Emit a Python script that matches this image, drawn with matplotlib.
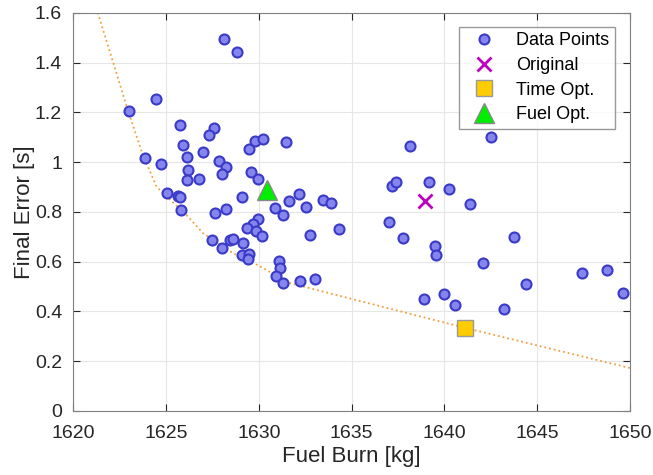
import numpy as np
import matplotlib.pyplot as plt

plt.rcParams['font.family'] = ['Liberation Sans', 'DejaVu Sans']

# Data points (fuel burn [kg], final error [s])
fuel = np.array([
    1628.15, 1628.81, 1624.45, 1623.03, 1625.78, 1627.59, 1627.31, 1625.90,
    1627.00, 1629.49, 1629.82, 1630.21, 1631.49, 1623.89, 1624.75, 1626.12,
    1627.83, 1628.22, 1626.16, 1626.14, 1626.77, 1628.02, 1629.59, 1629.94,
    1625.04, 1625.64, 1625.75, 1629.07, 1632.14, 1631.61, 1632.53, 1625.80,
    1627.66, 1628.22, 1630.88, 1631.29, 1629.94, 1633.44, 1633.89, 1629.67,
    1629.35, 1629.85, 1630.18, 1632.76, 1634.32, 1627.49, 1628.04, 1628.45,
    1628.63, 1629.15, 1629.08, 1629.46, 1629.41, 1631.09, 1631.15, 1630.95,
    1631.33, 1632.24, 1633.05, 1638.15, 1642.49, 1637.20, 1637.40, 1639.15,
    1640.25, 1641.40, 1637.00, 1637.79, 1643.75, 1639.49, 1639.53, 1642.06,
    1647.41, 1648.74, 1644.39, 1649.62, 1638.90, 1639.99, 1640.59, 1643.19,
])
error = np.array([
    1.494, 1.442, 1.254, 1.207, 1.148, 1.139, 1.107, 1.069,
    1.042, 1.053, 1.083, 1.093, 1.080, 1.016, 0.992, 1.020,
    1.004, 0.982, 0.968, 0.927, 0.934, 0.953, 0.960, 0.934,
    0.875, 0.862, 0.858, 0.859, 0.870, 0.845, 0.819, 0.808,
    0.795, 0.813, 0.816, 0.787, 0.772, 0.848, 0.835, 0.752,
    0.734, 0.725, 0.701, 0.708, 0.730, 0.685, 0.654, 0.687,
    0.690, 0.674, 0.627, 0.631, 0.611, 0.603, 0.574, 0.543,
    0.516, 0.523, 0.532, 1.065, 1.101, 0.905, 0.918, 0.919,
    0.892, 0.832, 0.758, 0.694, 0.697, 0.661, 0.628, 0.596,
    0.553, 0.568, 0.509, 0.474, 0.449, 0.470, 0.426, 0.411,
])

# Special designs
orig_pt = (1638.97, 0.843)
time_opt = (1641.09, 0.334)
fuel_opt = (1630.43, 0.888)

# Pareto front
front_fuel = np.array([1621.0, 1622.9, 1623.7, 1624.5, 1626.2, 1627.0, 1628.6,
                       1630.1, 1631.6, 1641.09, 1650.0])
front_err = np.array([1.68, 1.22, 1.04, 0.90, 0.78, 0.714, 0.634,
                      0.58, 0.515, 0.334, 0.172])

fig = plt.figure(figsize=(6.53, 4.75), dpi=100)
ax = fig.add_axes([0.112, 0.135, 0.853, 0.838])

ax.plot(front_fuel, front_err, linestyle=':', color='#F0A040', linewidth=1.3, zorder=2)
ax.plot(fuel, error, 'o', markersize=7.2, markerfacecolor='#8585EE',
        markeredgecolor='#3A3AC8', markeredgewidth=1.5, label='Data Points', zorder=3)
ax.plot(*orig_pt, 'x', markersize=10, color='#C000C0', markeredgewidth=2,
        label='Original', zorder=4)
ax.plot(*time_opt, 's', markersize=11, markerfacecolor='#FFCC00',
        markeredgecolor='#999999', markeredgewidth=1, label='Time Opt.', zorder=4)
ax.plot(*fuel_opt, '^', markersize=14, markerfacecolor='#00EE00',
        markeredgecolor='#888888', markeredgewidth=1, label='Fuel Opt.', zorder=4)

ax.set_xlim(1620, 1650)
ax.set_ylim(0, 1.6)
ax.set_xticks(np.arange(1620, 1651, 5))
ax.set_yticks(np.arange(0, 1.61, 0.2))
ax.set_yticklabels(['0', '0.2', '0.4', '0.6', '0.8', '1', '1.2', '1.4', '1.6'])
ax.set_xlabel('Fuel Burn [kg]', fontsize=16, color='#262626', labelpad=3)
ax.set_ylabel('Final Error [s]', fontsize=16, color='#262626', labelpad=0)
ax.tick_params(direction='in', labelsize=14, colors='#262626', length=5,
               top=True, right=True)
ax.tick_params(axis='x', pad=10)
ax.tick_params(axis='y', pad=8)
for s in ax.spines.values():
    s.set_color('#808080')
ax.grid(True, color='#E6E6E6', linewidth=0.8)
ax.set_axisbelow(True)

leg = ax.legend(loc='upper right', fontsize=13, frameon=True, fancybox=False,
                edgecolor='#808080', borderpad=0.3, labelspacing=0.42,
                handletextpad=0.7, handlelength=2.2, borderaxespad=0,
                bbox_to_anchor=(615 / 653, 1 - 27 / 475),
                bbox_transform=fig.transFigure)
leg.get_frame().set_linewidth(1)

fig.savefig('out.png', dpi=100)
